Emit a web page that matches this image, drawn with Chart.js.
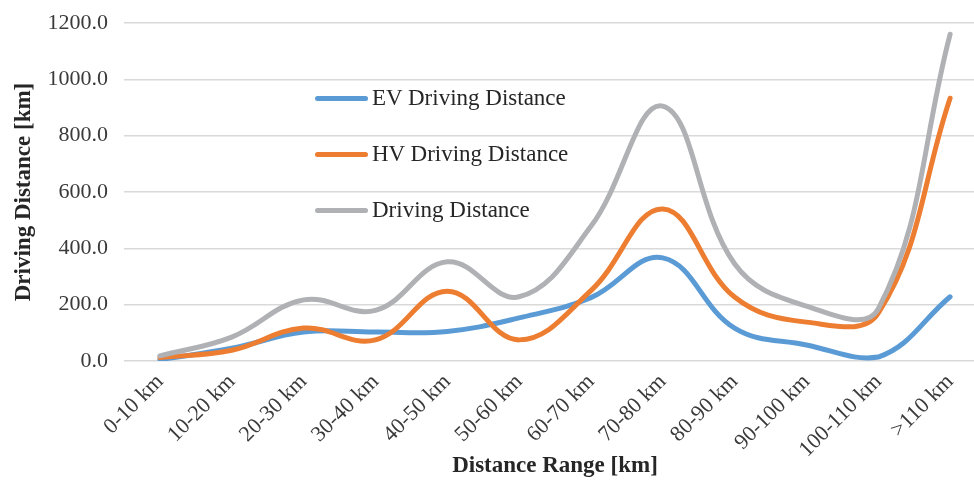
<!DOCTYPE html>
<html><head><meta charset="utf-8">
<script src="https://cdn.jsdelivr.net/npm/chart.js@4.4.1/dist/chart.umd.min.js"></script>
<style>
html,body{margin:0;padding:0;background:#fff;overflow:hidden;width:974px;height:480px;}
#wrap{position:relative;width:986px;height:480px;}
#legend{position:absolute;left:0;top:0;font-family:"Liberation Serif",serif;font-size:23px;color:#262626;}
.item{position:absolute;white-space:nowrap;height:26px;line-height:26px;}
.sw{display:inline-block;width:53px;height:5px;border-radius:3px;vertical-align:middle;margin-right:4px;position:relative;top:-1px;}
</style>
</head><body>
<div id="wrap"><canvas id="c" width="986" height="480"></canvas><div id="legend"></div></div>
<script>
const categories = ["0-10 km","10-20 km","20-30 km","30-40 km","40-50 km","50-60 km","60-70 km","70-80 km","80-90 km","90-100 km","100-110 km",">110 km"];
const evDistance = [5, 45, 103, 103, 105, 153, 225, 366, 117, 57, 14, 228];
const hvDistance = [12, 38, 117, 75, 248, 75, 250, 540, 227, 138, 170, 933];
const totalDistance = [18, 85, 217, 180, 352, 228, 478, 905, 345, 195, 185, 1160];
const seriesNames = ["EV Driving Distance","HV Driving Distance","Driving Distance"];
const seriesColors = ["#5B9BD5","#ED7D31","#B0B1B4"];
const yTicks = [0,200,400,600,800,1000,1200];

const serif = "'Liberation Serif', 'Times New Roman', serif";
const seriesData = [evDistance, hvDistance, totalDistance];
const datasets = seriesData.map((d,i)=>({
  label: seriesNames[i], data: d, borderColor: seriesColors[i], backgroundColor: seriesColors[i],
  borderWidth: 5, pointRadius: 0, tension: 0.4, fill: false, borderCapStyle: 'round', borderJoinStyle:'round',
  order: 2 - i
}));

new Chart(document.getElementById('c'), {
  type: 'line',
  data: { labels: categories, datasets },
  options: {
    responsive: false, animation: false,
    layout: { padding: { top: 23, right: 0, left: 0, bottom: 0 } },
    plugins: { legend: { display: false }, tooltip: { enabled: false } },
    scales: {
      x: {
        offset: true,
        grid: { display: false }, border: { display: false },
        ticks: { minRotation: 45, maxRotation: 45, color: '#3a3a3a', font: { family: serif, size: 22 }, padding: 0 },
        title: { display: true, text: 'Distance Range [km]', color: '#262626', font: { family: serif, size: 23, weight: 'bold' }, padding: { top: 0, bottom: 0 } },
        afterFit: s => { s.height = 119; }
      },
      y: {
        min: 0, max: 1200,
        afterBuildTicks: s => { s.ticks = yTicks.map(v => ({ value: v })); },
        grid: { color: '#D9D9D9', lineWidth: 1.5, drawTicks: false },
        border: { display: false },
        ticks: { color: '#3a3a3a', font: { family: serif, size: 22 }, padding: 16, callback: v => Number(v).toFixed(1) },
        title: { display: true, text: 'Driving Distance [km]', color: '#262626', font: { family: serif, size: 23, weight: 'bold' }, padding: { top: 10, bottom: 4 } },
        afterFit: s => { s.width = 124; s.paddingTop = 0; s.paddingBottom = 0; }
      }
    }
  }
});

const legend = document.getElementById('legend');
const legendTops = [98, 154, 210];
seriesNames.forEach((n,i)=>{
  const it = document.createElement('div');
  it.className = 'item';
  it.style.left = '315px';
  it.style.top = (legendTops[i] - 13) + 'px';
  const sw = document.createElement('span');
  sw.className = 'sw'; sw.style.background = seriesColors[i];
  it.appendChild(sw);
  it.appendChild(document.createTextNode(n));
  legend.appendChild(it);
});
</script>
</body></html>
